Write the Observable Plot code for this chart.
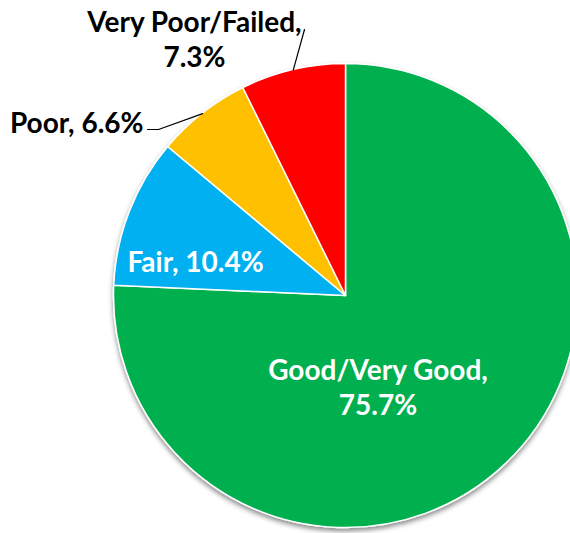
<!DOCTYPE html>
<html><head><meta charset="utf-8">
<script src="https://cdn.jsdelivr.net/npm/d3@7"></script>
<script src="https://cdn.jsdelivr.net/npm/@observablehq/plot@0.6"></script>
<style>body{margin:0;background:#fff}</style>
</head><body><div id="chart"></div>
<script>
// ---- data ----
const categories = ["Good/Very Good", "Fair", "Poor", "Very Poor/Failed"];
const shares = [75.7, 10.4, 6.6, 7.3];
const colors = ["#00B050", "#00B0F0", "#FFC000", "#FF0000"];

// ---- layout (pixels of the 570x533 frame) ----
const W = 570, H = 533, cx = 345.5, cy = 295.5, R = 232;
const ux = px => (px - cx) / R, uy = py => (cy - py) / R;
const FONT = "Lato, 'Open Sans', sans-serif", FS = 28;
const labelLayout = [
  {x: 377.5, y: 386, anchor: "middle", fill: "#fff"},
  {x: 195,   y: 260, anchor: "middle", fill: "#fff"},
  {x: 143,   y: 121, anchor: "end",    fill: "#000"},
  {x: 194,   y: 38,  anchor: "middle", fill: "#000"}
];
const leaderLayout = [null, null, [[147,129],[158,129]], [[304,29]]];

const data = categories.map((c, i) => ({category: c, value: shares[i], color: colors[i]}));
const arcs = d3.pie().sort(null).value(d => d.value).startAngle(0).endAngle(2 * Math.PI)(data);

const labels = arcs.map((a, i) => {
  const d = a.data, sep = (i === 0 || i === 3) ? ",\n" : ", ";
  return {text: `${d.category}${sep}${d.value.toFixed(1)}%`, x: ux(labelLayout[i].x), y: uy(labelLayout[i].y),
          anchor: labelLayout[i].anchor, fill: labelLayout[i].fill};
});
const leaders = [];
arcs.forEach((a, i) => {
  if (!leaderLayout[i]) return;
  leaderLayout[i].forEach(p => leaders.push({x: ux(p[0]), y: uy(p[1]), k: i}));
  const m = (a.startAngle + a.endAngle) / 2;
  leaders.push({x: Math.sin(m), y: Math.cos(m), k: i});
});

function pieMark(index, scales) {
  const px = scales.x(0), py = scales.y(0), r = scales.x(1) - scales.x(0);
  const g = d3.create("svg:g");
  const f = g.append("defs").append("filter").attr("id", "pieShadow")
    .attr("x", "-10%").attr("y", "-10%").attr("width", "120%").attr("height", "120%");
  f.append("feDropShadow").attr("dx", 0).attr("dy", 3).attr("stdDeviation", 2.5)
    .attr("flood-color", "#000").attr("flood-opacity", 0.45);
  const arc = d3.arc().innerRadius(0).outerRadius(r);
  g.append("g").attr("transform", `translate(${px},${py})`).attr("filter", "url(#pieShadow)")
    .selectAll("path").data(arcs).join("path")
    .attr("d", arc).attr("fill", d => d.data.color)
    .attr("stroke", "#fff").attr("stroke-width", 1.5).attr("stroke-linejoin", "round");
  return g.node();
}

const textOpts = anchor => ({x: "x", y: "y", text: "text", fill: "fill", textAnchor: anchor,
  filter: d => d.anchor === anchor,
  fontSize: FS, fontWeight: "bold", fontFamily: FONT, lineHeight: 35 / FS});

const chart = Plot.plot({
  width: W, height: H, margin: 0,
  x: {domain: [ux(0), ux(W)], axis: null},
  y: {domain: [uy(H), uy(0)], axis: null},
  marks: [
    pieMark,
    Plot.line(leaders, {x: "x", y: "y", z: "k", stroke: "#000", strokeWidth: 1.2}),
    Plot.text(labels, textOpts("middle")),
    Plot.text(labels, textOpts("end"))
  ]
});
document.getElementById("chart").appendChild(chart);
</script>
</body></html>
